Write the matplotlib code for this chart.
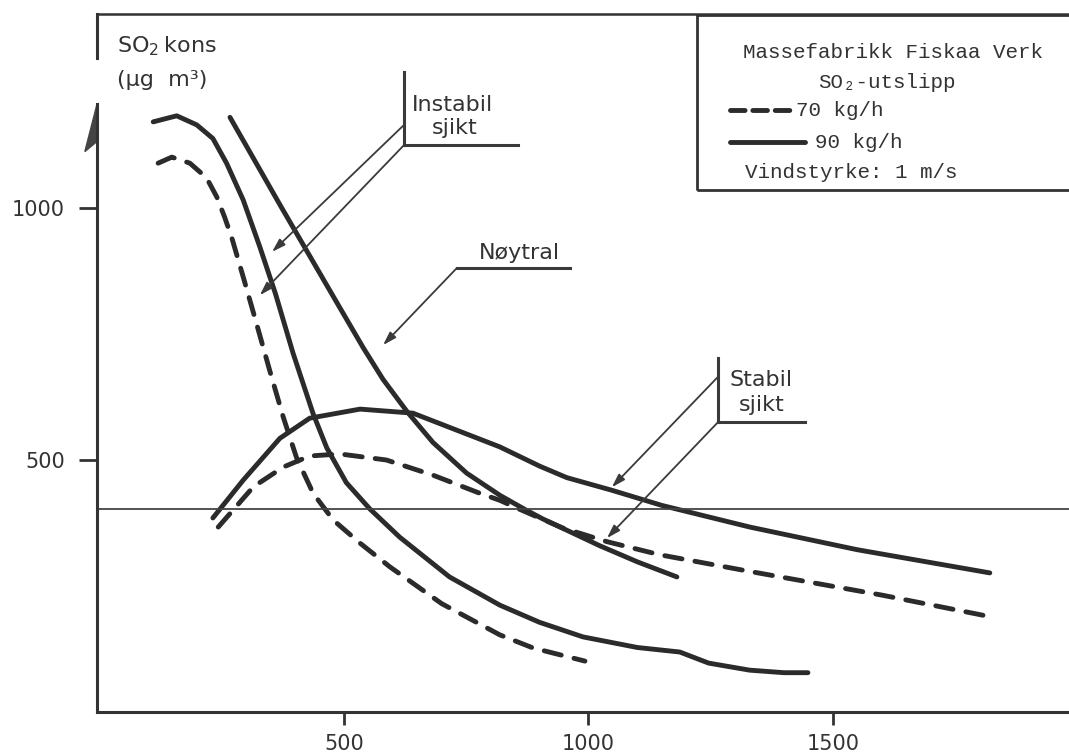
import matplotlib
matplotlib.use("Agg")
import matplotlib.pyplot as plt
from matplotlib.patches import Rectangle, Polygon
from matplotlib.lines import Line2D

# ---------------- data ----------------
instabil90_x = [110, 158, 199, 232, 260, 294, 328, 360, 396, 412, 437, 465, 505, 553, 614, 716, 819, 900, 989, 1100, 1187, 1246, 1330, 1400, 1449]
instabil90_y = [1171, 1183, 1165, 1138, 1089, 1016, 923, 830, 712, 665, 592, 524, 455, 403, 347, 268, 212, 178, 149, 128, 119, 97, 83, 78, 78]

instabil70_x = [120, 148, 185, 219, 240, 256, 271, 295, 320, 349, 376, 403, 437, 478, 533, 594, 700, 819, 887, 993]
instabil70_y = [1089, 1101, 1089, 1060, 1022, 982, 940, 860, 775, 675, 585, 505, 434, 381, 335, 288, 215, 153, 127, 101]

noytral90_x = [267, 320, 370, 430, 490, 540, 580, 630, 682, 751, 819, 870, 907, 1023, 1100, 1181]
noytral90_y = [1180, 1090, 1005, 905, 805, 722, 660, 595, 535, 474, 430, 402, 383, 330, 298, 268]

stabil90_x = [232, 294, 369, 430, 533, 641, 819, 900, 956, 1048, 1150, 1330, 1550, 1821]
stabil90_y = [385, 460, 543, 583, 601, 593, 526, 488, 465, 440, 410, 367, 322, 276]

stabil70_x = [243, 315, 376, 430, 492, 587, 682, 778, 819, 860, 948, 1038, 1146, 1324, 1600, 1807]
stabil70_y = [367, 447, 486, 508, 512, 500, 470, 434, 420, 402, 365, 338, 312, 280, 232, 192]

limit_value = 403
x_ticks = [500, 1000, 1500]
y_ticks = [500, 1000]

legend_title = "Massefabrikk Fiskaa Verk"
legend_sub = "SO\u2082-utslipp"
legend_70 = "70 kg/h"
legend_90 = "90 kg/h"
legend_wind = "Vindstyrke: 1 m/s"

# ---------------- figure ----------------
W, H = 1069, 756
fig = plt.figure(figsize=(W / 100, H / 100), dpi=100)
fig.patch.set_facecolor("white")

def fx(px):
    return px / W

def fy(py):
    return 1 - py / H

ax = fig.add_axes([fx(97), fy(712), 1 - fx(97), (712 - 14) / H])
ax.set_xlim(-5, 1983)
ax.set_ylim(0, 1385)

ink = "#2b2b2b"
lw = 3.5
dash = (3.6, 2.7)

for xs, ys in [(instabil90_x, instabil90_y), (noytral90_x, noytral90_y), (stabil90_x, stabil90_y)]:
    ax.plot(xs, ys, color=ink, lw=lw, solid_capstyle="round", solid_joinstyle="round")
for xs, ys in [(instabil70_x, instabil70_y), (stabil70_x, stabil70_y)]:
    ax.plot(xs, ys, color=ink, lw=lw, dashes=dash, dash_capstyle="round", dash_joinstyle="round")

ax.axhline(limit_value, color="#444444", lw=1.3)

# spines
for s in ["left", "right"]:
    ax.spines[s].set_visible(False)
ax.spines["bottom"].set_linewidth(2.2)
ax.spines["bottom"].set_color("#333333")
ax.spines["top"].set_linewidth(1.8)
ax.spines["top"].set_color("#333333")

yt = ax.get_yaxis_transform()
ax.plot([0, 0], [1298, 1385], transform=yt, color="#333333", lw=2.2, clip_on=False)
ax.plot([0, 0], [0, 1206], transform=yt, color="#333333", lw=2.2, clip_on=False)
ax.add_patch(Polygon([(0, 1206), (-0.0125, 1112), (0, 1132)], closed=True,
                     transform=yt, color="#444444", clip_on=False))

ax.set_xticks(x_ticks)
ax.set_yticks(y_ticks)
ax.tick_params(axis="x", direction="out", length=9, width=2, color="#333333",
               labelsize=15, pad=7, labelcolor="#333333")
ax.tick_params(axis="y", direction="out", length=13, width=2, color="#333333",
               labelsize=15, pad=10, labelcolor="#333333")

# axis caption
ax.text(20 / 972, 1 - 32 / 698, "SO$_\\mathregular{2}$\u2009kons", transform=ax.transAxes,
        fontsize=16, color="#333333", va="center", ha="left")
ax.text(20 / 972, 1 - 66 / 698, "(\u00b5g  m\u00b3)", transform=ax.transAxes,
        fontsize=16, color="#333333", va="center", ha="left")

# ---------------- annotations ----------------
acol = "#3a3a3a"
arrow = dict(arrowstyle="-|>,head_length=0.8,head_width=0.25", color=acol, lw=1.3,
             shrinkA=0, shrinkB=0)

# Instabil sjikt
ax.plot([623, 623], [1270, 1125], color=acol, lw=2.2)
ax.plot([623, 856], [1125, 1125], color=acol, lw=2.2)
ax.text(639, 1204, "Instabil", fontsize=16, color="#333333", ha="left", va="center")
ax.text(727, 1159, "sjikt", fontsize=16, color="#333333", ha="center", va="center")
ax.annotate("", xy=(353, 913), xytext=(623, 1165), arrowprops=arrow)
ax.annotate("", xy=(328, 827), xytext=(623, 1125), arrowprops=arrow)

# Nøytral
ax.text(858, 911, "Nøytral", fontsize=16, color="#333333", ha="center", va="center")
ax.plot([731, 962], [881, 881], color=acol, lw=2.2)
ax.annotate("", xy=(580, 728), xytext=(731, 881), arrowprops=arrow)

# Stabil sjikt
ax.plot([1265, 1265], [702, 575], color=acol, lw=2.2)
ax.plot([1265, 1443], [575, 575], color=acol, lw=2.2)
ax.text(1353, 659, "Stabil", fontsize=16, color="#333333", ha="center", va="center")
ax.text(1355, 609, "sjikt", fontsize=16, color="#333333", ha="center", va="center")
ax.annotate("", xy=(1048, 446), xytext=(1265, 665), arrowprops=arrow)
ax.annotate("", xy=(1038, 345), xytext=(1265, 575), arrowprops=arrow)

# ---------------- legend box ----------------
mono = ["Liberation Mono", "DejaVu Sans Mono"]
fs = 15
fig.patches.append(Rectangle((fx(697), fy(190)), 1.05 - fx(697), (190 - 15) / H,
                             transform=fig.transFigure, fill=False,
                             edgecolor="#333333", lw=2, figure=fig))
fig.text(fx(893), fy(53), legend_title, family=mono, fontsize=fs, color="#333333",
         ha="center", va="center")
fig.text(fx(887), fy(82), legend_sub, family=mono, fontsize=fs, color="#333333",
         ha="center", va="center")
fig.lines.append(Line2D([fx(730), fx(795)], [fy(110), fy(110)], transform=fig.transFigure,
                        color=ink, lw=3.5, dashes=(3.0, 1.6), dash_capstyle="round", figure=fig))
fig.text(fx(796), fy(110), legend_70, family=mono, fontsize=fs, color="#333333",
         ha="left", va="center")
fig.lines.append(Line2D([fx(730), fx(805)], [fy(142), fy(142)], transform=fig.transFigure,
                        color=ink, lw=3.5, solid_capstyle="round", figure=fig))
fig.text(fx(815), fy(142), legend_90, family=mono, fontsize=fs, color="#333333",
         ha="left", va="center")
fig.text(fx(745), fy(172), legend_wind, family=mono, fontsize=fs, color="#333333",
         ha="left", va="center")

fig.savefig("out.png", dpi=100, facecolor="white")
